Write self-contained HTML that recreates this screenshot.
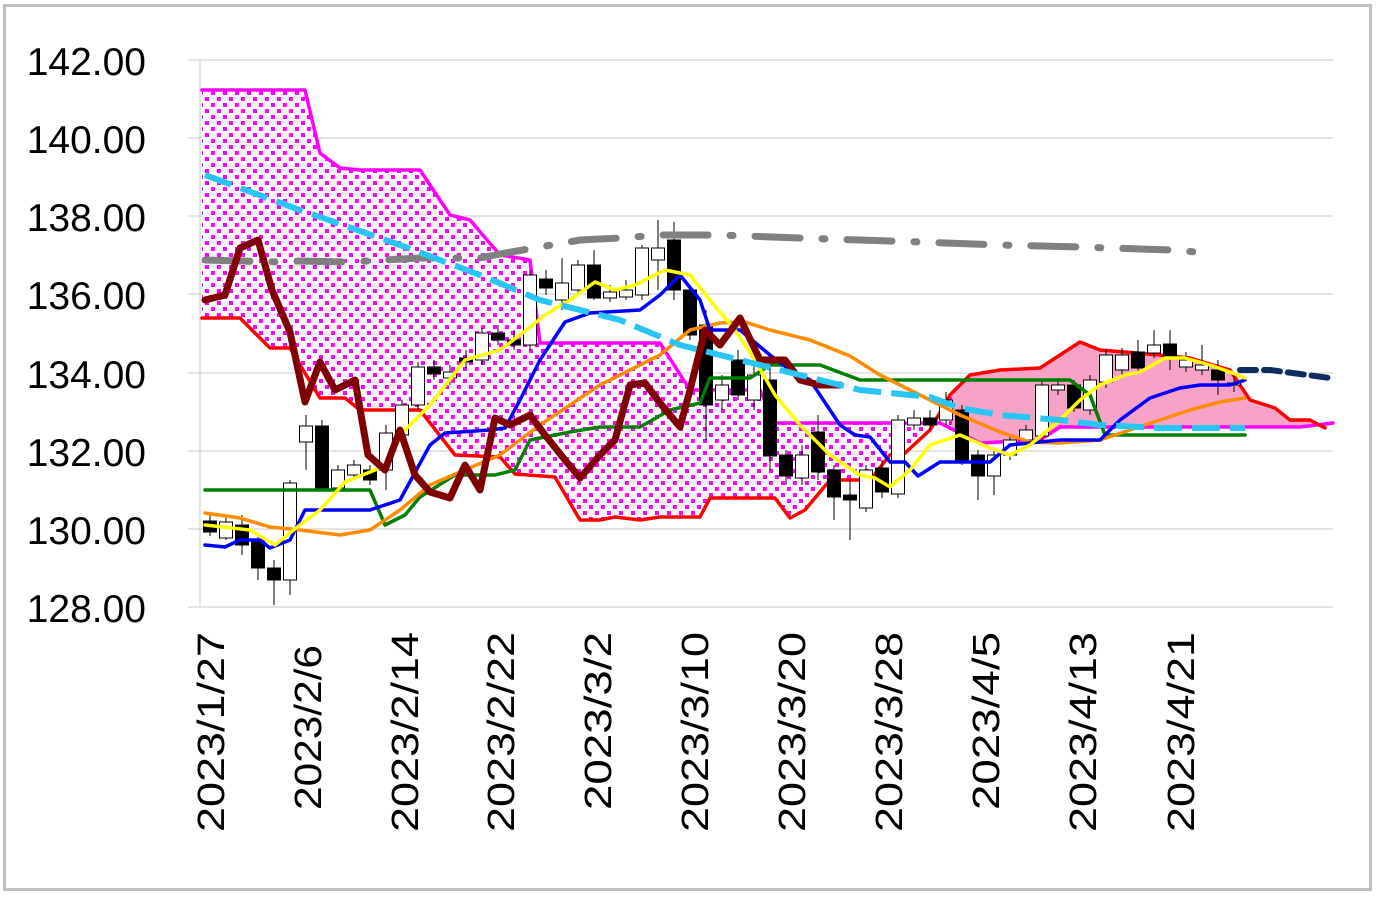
<!DOCTYPE html>
<html><head><meta charset="utf-8"><style>
html,body{margin:0;padding:0;background:#fff;}
svg{display:block;font-family:"Liberation Sans","Noto Sans CJK JP",sans-serif;}
</style></head><body>
<svg width="1376" height="900" viewBox="0 0 1376 900" xmlns="http://www.w3.org/2000/svg">
<defs>
<pattern id="dots" width="12" height="12" patternUnits="userSpaceOnUse">
<rect width="12" height="12" fill="#fff"/>
<rect x="1" y="1" width="4" height="4" fill="#ff00ff"/>
<rect x="7" y="7" width="4" height="4" fill="#ff00ff"/>
</pattern>
<clipPath id="cl"><rect x="0" y="0" width="952" height="900"/></clipPath>
<clipPath id="cr"><rect x="952" y="0" width="424" height="900"/></clipPath>
</defs>
<rect x="0" y="0" width="1376" height="900" fill="#fff"/>
<rect x="4.5" y="5.5" width="1366" height="884" fill="none" stroke="#c0c0c0" stroke-width="3"/>
<g stroke="#c8c8c8" stroke-width="1">
<line x1="188" y1="60" x2="1333" y2="60"/>
<line x1="188" y1="138" x2="1333" y2="138"/>
<line x1="188" y1="216" x2="1333" y2="216"/>
<line x1="188" y1="294" x2="1333" y2="294"/>
<line x1="188" y1="373" x2="1333" y2="373"/>
<line x1="188" y1="451" x2="1333" y2="451"/>
<line x1="188" y1="529" x2="1333" y2="529"/>
<line x1="188" y1="607" x2="1333" y2="607"/>
</g>
<line x1="200" y1="60" x2="200" y2="607" stroke="#c8c8c8"/>
<g font-size="39" text-anchor="end" fill="#000">
<text x="146" y="75">142.00</text><text x="146" y="153">140.00</text><text x="146" y="231">138.00</text>
<text x="146" y="309">136.00</text><text x="146" y="388">134.00</text><text x="146" y="466">132.00</text>
<text x="146" y="544">130.00</text><text x="146" y="622">128.00</text>
</g>
<g font-size="38" text-anchor="end" fill="#000">
<text transform="translate(224,632) rotate(-90)" textLength="200" lengthAdjust="spacingAndGlyphs">2023/1/27</text>
<text transform="translate(321,645) rotate(-90)" textLength="165" lengthAdjust="spacingAndGlyphs">2023/2/6</text>
<text transform="translate(418,632) rotate(-90)" textLength="200" lengthAdjust="spacingAndGlyphs">2023/2/14</text>
<text transform="translate(514,632) rotate(-90)" textLength="200" lengthAdjust="spacingAndGlyphs">2023/2/22</text>
<text transform="translate(611,632) rotate(-90)" textLength="178" lengthAdjust="spacingAndGlyphs">2023/3/2</text>
<text transform="translate(708,632) rotate(-90)" textLength="200" lengthAdjust="spacingAndGlyphs">2023/3/10</text>
<text transform="translate(805,632) rotate(-90)" textLength="200" lengthAdjust="spacingAndGlyphs">2023/3/20</text>
<text transform="translate(902,632) rotate(-90)" textLength="200" lengthAdjust="spacingAndGlyphs">2023/3/28</text>
<text transform="translate(999,632) rotate(-90)" textLength="178" lengthAdjust="spacingAndGlyphs">2023/4/5</text>
<text transform="translate(1096,632) rotate(-90)" textLength="200" lengthAdjust="spacingAndGlyphs">2023/4/13</text>
<text transform="translate(1194,632) rotate(-90)" textLength="200" lengthAdjust="spacingAndGlyphs">2023/4/21</text>
</g>
<polygon clip-path="url(#cl)" fill="url(#dots)" points="202,90 305,90 320,153 340,168 360,170 420,170 450,215 470,220 500,255 530,260 540,343 660,343 690,390 760,390 775,423 940,423 960,433 980,443 1040,440 1060,427 1130,427 1300,427 1333,423 1325,428 1310,420 1290,420 1275,408 1250,400 1230,370 1190,358 1160,355 1100,350 1080,342 1060,355 1040,368 1000,370 970,375 950,395 930,430 905,453 890,455 870,480 830,480 805,510 790,518 775,498 710,498 700,517 660,517 640,520 615,517 600,520 580,520 555,477 515,474 500,457 455,455 420,410 360,410 345,398 320,398 290,348 270,348 240,318 202,318"/>
<polygon clip-path="url(#cr)" fill="#f7a3c8" points="202,90 305,90 320,153 340,168 360,170 420,170 450,215 470,220 500,255 530,260 540,343 660,343 690,390 760,390 775,423 940,423 960,433 980,443 1040,440 1060,427 1130,427 1300,427 1333,423 1325,428 1310,420 1290,420 1275,408 1250,400 1230,370 1190,358 1160,355 1100,350 1080,342 1060,355 1040,368 1000,370 970,375 950,395 930,430 905,453 890,455 870,480 830,480 805,510 790,518 775,498 710,498 700,517 660,517 640,520 615,517 600,520 580,520 555,477 515,474 500,457 455,455 420,410 360,410 345,398 320,398 290,348 270,348 240,318 202,318"/>
<g fill="none" stroke-linejoin="round" stroke-linecap="round">
<polyline stroke="#ff00ff" stroke-width="3.5" points="202,90 305,90 320,153 340,168 360,170 420,170 450,215 470,220 500,255 530,260 540,343 660,343 690,390 760,390 775,423 940,423 960,433 980,443 1040,440 1060,427 1130,427 1300,427 1333,423"/>
<polyline stroke="#ff0000" stroke-width="3.5" points="202,318 240,318 270,348 290,348 320,398 345,398 360,410 420,410 455,455 500,457 515,474 555,477 580,520 600,520 615,517 640,520 660,517 700,517 710,498 775,498 790,518 805,510 830,480 870,480 890,455 905,453 930,430 950,395 970,375 1000,370 1040,368 1060,355 1080,342 1100,350 1160,355 1190,358 1230,370 1250,400 1275,408 1290,420 1310,420 1325,428"/>
</g>
<g stroke="#000" stroke-width="1">
<line x1="210" y1="515" x2="210" y2="536"/><rect x="203.5" y="521" width="13" height="11" fill="#000"/>
<line x1="226" y1="518" x2="226" y2="540"/><rect x="219.5" y="522" width="13" height="16" fill="#fff"/>
<line x1="242" y1="515" x2="242" y2="555"/><rect x="235.5" y="525" width="13" height="20" fill="#000"/>
<line x1="258" y1="535" x2="258" y2="580"/><rect x="251.5" y="540" width="13" height="28" fill="#000"/>
<line x1="274" y1="560" x2="274" y2="605"/><rect x="267.5" y="568" width="13" height="12" fill="#000"/>
<line x1="290" y1="480" x2="290" y2="595"/><rect x="283.5" y="483" width="13" height="97" fill="#fff"/>
<line x1="306" y1="415" x2="306" y2="470"/><rect x="299.5" y="426" width="13" height="16" fill="#fff"/>
<line x1="322" y1="420" x2="322" y2="490"/><rect x="315.5" y="426" width="13" height="62" fill="#000"/>
<line x1="338" y1="465" x2="338" y2="492"/><rect x="331.5" y="470" width="13" height="18" fill="#fff"/>
<line x1="354" y1="460" x2="354" y2="480"/><rect x="347.5" y="465" width="13" height="10" fill="#fff"/>
<line x1="370" y1="465" x2="370" y2="485"/><rect x="363.5" y="470" width="13" height="10" fill="#000"/>
<line x1="386" y1="425" x2="386" y2="490"/><rect x="379.5" y="433" width="13" height="37" fill="#fff"/>
<line x1="402" y1="400" x2="402" y2="445"/><rect x="395.5" y="405" width="13" height="30" fill="#fff"/>
<line x1="418" y1="362" x2="418" y2="410"/><rect x="411.5" y="367" width="13" height="38" fill="#fff"/>
<line x1="434" y1="360" x2="434" y2="380"/><rect x="427.5" y="367" width="13" height="7" fill="#000"/>
<line x1="450" y1="365" x2="450" y2="385"/><rect x="443.5" y="372" width="13" height="6" fill="#fff"/>
<line x1="466" y1="350" x2="466" y2="368"/><rect x="459.5" y="358" width="13" height="4" fill="#000"/>
<line x1="482" y1="328" x2="482" y2="365"/><rect x="475.5" y="333" width="13" height="27" fill="#fff"/>
<line x1="498" y1="325" x2="498" y2="345"/><rect x="491.5" y="333" width="13" height="7" fill="#000"/>
<line x1="514" y1="330" x2="514" y2="350"/><rect x="507.5" y="340" width="13" height="5" fill="#000"/>
<line x1="530" y1="270" x2="530" y2="350"/><rect x="523.5" y="275" width="13" height="70" fill="#fff"/>
<line x1="546" y1="270" x2="546" y2="295"/><rect x="539.5" y="279" width="13" height="9" fill="#000"/>
<line x1="562" y1="258" x2="562" y2="310"/><rect x="555.5" y="283" width="13" height="17" fill="#fff"/>
<line x1="578" y1="260" x2="578" y2="295"/><rect x="571.5" y="265" width="13" height="25" fill="#fff"/>
<line x1="594" y1="250" x2="594" y2="300"/><rect x="587.5" y="265" width="13" height="33" fill="#000"/>
<line x1="610" y1="285" x2="610" y2="302"/><rect x="603.5" y="292" width="13" height="6" fill="#fff"/>
<line x1="626" y1="280" x2="626" y2="300"/><rect x="619.5" y="290" width="13" height="7" fill="#fff"/>
<line x1="642" y1="245" x2="642" y2="300"/><rect x="635.5" y="248" width="13" height="47" fill="#fff"/>
<line x1="658" y1="220" x2="658" y2="290"/><rect x="651.5" y="248" width="13" height="12" fill="#fff"/>
<line x1="674" y1="222" x2="674" y2="300"/><rect x="667.5" y="240" width="13" height="50" fill="#000"/>
<line x1="690" y1="285" x2="690" y2="340"/><rect x="683.5" y="290" width="13" height="45" fill="#000"/>
<line x1="706" y1="310" x2="706" y2="440"/><rect x="699.5" y="325" width="13" height="80" fill="#000"/>
<line x1="722" y1="375" x2="722" y2="410"/><rect x="715.5" y="385" width="13" height="15" fill="#fff"/>
<line x1="738" y1="350" x2="738" y2="400"/><rect x="731.5" y="360" width="13" height="35" fill="#000"/>
<line x1="754" y1="365" x2="754" y2="410"/><rect x="747.5" y="375" width="13" height="25" fill="#fff"/>
<line x1="770" y1="360" x2="770" y2="470"/><rect x="763.5" y="380" width="13" height="76" fill="#000"/>
<line x1="786" y1="450" x2="786" y2="485"/><rect x="779.5" y="455" width="13" height="21" fill="#000"/>
<line x1="802" y1="445" x2="802" y2="485"/><rect x="795.5" y="455" width="13" height="23" fill="#fff"/>
<line x1="818" y1="415" x2="818" y2="480"/><rect x="811.5" y="432" width="13" height="40" fill="#000"/>
<line x1="834" y1="465" x2="834" y2="520"/><rect x="827.5" y="470" width="13" height="27" fill="#000"/>
<line x1="850" y1="480" x2="850" y2="540"/><rect x="843.5" y="495" width="13" height="5" fill="#000"/>
<line x1="866" y1="465" x2="866" y2="512"/><rect x="859.5" y="470" width="13" height="38" fill="#fff"/>
<line x1="882" y1="460" x2="882" y2="498"/><rect x="875.5" y="468" width="13" height="24" fill="#000"/>
<line x1="898" y1="415" x2="898" y2="498"/><rect x="891.5" y="420" width="13" height="74" fill="#fff"/>
<line x1="914" y1="410" x2="914" y2="430"/><rect x="907.5" y="418" width="13" height="7" fill="#fff"/>
<line x1="930" y1="410" x2="930" y2="430"/><rect x="923.5" y="418" width="13" height="7" fill="#000"/>
<line x1="946" y1="392" x2="946" y2="425"/><rect x="939.5" y="400" width="13" height="20" fill="#fff"/>
<line x1="962" y1="405" x2="962" y2="465"/><rect x="955.5" y="410" width="13" height="50" fill="#000"/>
<line x1="978" y1="450" x2="978" y2="500"/><rect x="971.5" y="455" width="13" height="21" fill="#000"/>
<line x1="994" y1="450" x2="994" y2="495"/><rect x="987.5" y="455" width="13" height="21" fill="#fff"/>
<line x1="1010" y1="435" x2="1010" y2="460"/><rect x="1003.5" y="440" width="13" height="15" fill="#fff"/>
<line x1="1026" y1="425" x2="1026" y2="445"/><rect x="1019.5" y="430" width="13" height="10" fill="#fff"/>
<line x1="1042" y1="380" x2="1042" y2="440"/><rect x="1035.5" y="385" width="13" height="51" fill="#fff"/>
<line x1="1058" y1="378" x2="1058" y2="395"/><rect x="1051.5" y="385" width="13" height="5" fill="#fff"/>
<line x1="1074" y1="380" x2="1074" y2="412"/><rect x="1067.5" y="385" width="13" height="23" fill="#000"/>
<line x1="1090" y1="375" x2="1090" y2="415"/><rect x="1083.5" y="380" width="13" height="30" fill="#fff"/>
<line x1="1106" y1="350" x2="1106" y2="388"/><rect x="1099.5" y="355" width="13" height="27" fill="#fff"/>
<line x1="1122" y1="348" x2="1122" y2="375"/><rect x="1115.5" y="355" width="13" height="15" fill="#fff"/>
<line x1="1138" y1="340" x2="1138" y2="372"/><rect x="1131.5" y="352" width="13" height="16" fill="#000"/>
<line x1="1154" y1="330" x2="1154" y2="358"/><rect x="1147.5" y="345" width="13" height="8" fill="#fff"/>
<line x1="1170" y1="330" x2="1170" y2="370"/><rect x="1163.5" y="344" width="13" height="14" fill="#000"/>
<line x1="1186" y1="352" x2="1186" y2="372"/><rect x="1179.5" y="360" width="13" height="7" fill="#fff"/>
<line x1="1202" y1="345" x2="1202" y2="375"/><rect x="1195.5" y="365" width="13" height="5" fill="#fff"/>
<line x1="1218" y1="360" x2="1218" y2="395"/><rect x="1211.5" y="370" width="13" height="10" fill="#000"/>
<line x1="1234" y1="375" x2="1234" y2="392"/><rect x="1227.5" y="383" width="13" height="2" fill="#fff"/>
</g>
<g fill="none" stroke-linejoin="round" stroke-linecap="round">
<polyline stroke="#808080" stroke-width="7" stroke-dasharray="45 22 3 22" points="205,260 280,262 300,261 350,262 420,258 480,258 500,254 580,240 620,238 660,235 720,235 800,238 860,240 920,242 1000,245 1080,247 1170,250 1210,253"/>
<polyline stroke="#008000" stroke-width="3.5" points="205,490 370,490 385,525 405,515 420,497 455,475 495,475 515,470 530,440 570,432 600,427 640,427 670,410 700,403 710,378 750,378 770,365 820,365 860,380 1070,380 1090,395 1105,435 1245,435"/>
<polyline stroke="#ff8c00" stroke-width="3.5" points="205,513 240,518 270,527 300,530 340,535 370,530 400,510 430,485 460,472 500,455 540,425 570,405 600,385 630,370 660,355 690,330 720,323 745,322 770,330 810,340 850,356 880,375 920,395 960,415 1000,432 1030,442 1060,443 1100,440 1130,430 1160,420 1190,410 1220,402 1245,398"/>
<polyline stroke="#0000ff" stroke-width="3.5" points="205,545 225,547 240,540 260,540 270,548 290,540 305,510 370,510 400,500 430,445 445,433 490,430 505,428 520,400 540,360 565,322 590,313 640,310 660,295 680,275 700,300 710,330 740,330 770,355 790,370 810,380 840,425 855,435 870,437 890,462 905,462 918,476 940,462 990,462 1010,445 1060,440 1100,440 1120,420 1150,398 1180,388 1200,385 1230,385 1245,380"/>
<polyline stroke="#ffff00" stroke-width="3.5" points="205,525 250,530 275,545 300,525 320,510 345,482 375,470 385,465 405,430 430,405 465,360 500,350 520,335 545,315 570,300 595,282 615,290 635,285 665,270 690,275 710,300 735,330 755,360 775,395 800,425 830,455 860,475 875,478 890,487 910,470 930,445 960,435 990,448 1010,455 1030,445 1060,420 1080,400 1100,385 1125,375 1140,372 1165,358 1185,358 1210,365 1230,372 1245,378"/>
<polyline stroke="#800000" stroke-width="7" points="205,300 225,295 240,248 258,240 272,290 290,332 305,402 320,362 335,390 355,380 368,455 385,470 400,430 415,475 430,492 450,498 465,465 480,490 495,418 510,425 530,415 545,435 565,460 580,478 600,455 615,440 630,385 645,383 660,403 680,427 690,390 705,330 720,345 740,318 760,360 785,360 800,380 820,385 840,385"/>
<polyline stroke="#29c5f6" stroke-width="6" stroke-dasharray="28 10" stroke-linecap="butt" points="205,175 300,210 400,245 480,275 540,300 620,320 680,345 740,360 800,375 860,390 930,397 960,408 1000,415 1060,420 1100,425 1160,428 1245,428"/>
<polyline stroke="#0f2c5e" stroke-width="6" stroke-dasharray="16 8" points="1240,370 1270,370 1300,374 1330,378"/>
</g>
</svg>
</body></html>
